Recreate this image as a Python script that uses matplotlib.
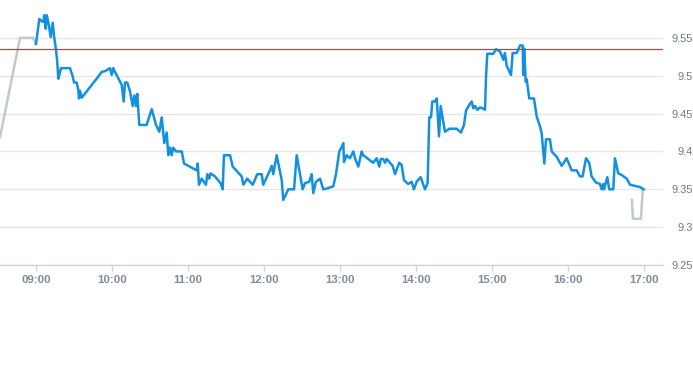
import numpy as np
import matplotlib.pyplot as plt

plt.rcParams['font.family'] = ['Liberation Sans', 'DejaVu Sans']

# --- data: minutes after 09:00 and price ---
pre_min = [-28.4, -12.6, -2.4, 0.0]
pre_px = [9.419, 9.550, 9.550, 9.542]

day_min = [0.0, 2.6, 4.5, 5.8, 6.5, 7.7, 8.4, 9.2, 10.3, 11.6, 13.2, 14.4, 15.8, 16.8,
           17.6, 18.4, 19.7, 26.8, 29.0, 30.0, 32.1, 33.4, 33.9, 34.7, 36.1, 49.2, 51.8,
           54.4, 58.4, 59.7, 61.0, 62.3, 67.6, 69.2, 70.2, 72.0, 74.2, 76.3, 77.6, 78.9,
           79.9, 81.5, 87.3, 91.3, 94.7, 97.3, 99.2, 101.2, 103.1, 104.4, 105.7, 107.1,
           108.3, 110.5, 115.0, 116.8, 126.8, 127.6, 128.6, 130.7, 134.1, 135.2, 136.7,
           137.8, 141.2, 145.7, 147.3, 148.3, 153.1, 155.2, 162.3, 163.6, 166.7, 171.0,
           174.6, 178.1, 179.3, 184.6, 186.0, 187.2, 189.9, 193.9, 195.1, 199.1, 203.6,
           205.7, 210.4, 212.2, 215.6, 217.5, 218.8, 220.9, 224.1, 226.7, 229.4, 234.6,
           236.7, 239.3, 241.2, 242.5, 243.0, 245.1, 247.7, 250.4, 251.7, 254.3, 257.0,
           258.2, 266.1, 268.8, 270.9, 272.0, 274.0, 275.4, 276.7, 281.4, 283.3, 286.6,
           288.5, 290.4, 293.7, 296.4, 298.2, 300.4, 303.5, 306.9, 309.0, 310.3, 311.7,
           312.7, 314.8, 316.2, 318.0, 319.3, 322.7, 326.1, 331.9, 335.3, 337.7, 339.3,
           342.4, 343.8, 345.0, 346.4, 348.2, 350.3, 352.4, 354.3, 355.1, 356.1, 360.8,
           362.9, 366.1, 367.4, 368.7, 370.0, 371.4, 374.8, 376.1, 379.3, 381.9, 384.0,
           384.5, 385.2, 386.4, 387.2, 389.2, 392.9, 395.1, 397.7, 399.0, 401.1, 402.4,
           405.5, 406.9, 410.8, 414.8, 418.7, 422.7, 426.6, 429.2, 431.3, 434.0, 436.5,
           438.4, 441.8, 445.0, 446.3, 447.6, 448.2, 450.8, 452.3, 455.5, 456.8, 459.4,
           462.1, 466.1, 468.7, 476.6, 479.2]
day_px = [9.542, 9.575, 9.572, 9.571, 9.580, 9.562, 9.580, 9.575, 9.565, 9.551, 9.570,
          9.550, 9.534, 9.518, 9.496, 9.501, 9.510, 9.510, 9.499, 9.491, 9.491, 9.481,
          9.470, 9.480, 9.471, 9.499, 9.505, 9.506, 9.510, 9.501, 9.510, 9.505, 9.488,
          9.466, 9.491, 9.491, 9.479, 9.460, 9.474, 9.460, 9.476, 9.435, 9.435, 9.456,
          9.435, 9.426, 9.445, 9.411, 9.425, 9.395, 9.405, 9.395, 9.405, 9.400, 9.400,
          9.384, 9.375, 9.384, 9.356, 9.364, 9.356, 9.370, 9.364, 9.371, 9.367, 9.358,
          9.350, 9.395, 9.395, 9.380, 9.367, 9.356, 9.364, 9.356, 9.370, 9.370, 9.356,
          9.375, 9.381, 9.370, 9.395, 9.362, 9.336, 9.350, 9.350, 9.395, 9.350, 9.358,
          9.360, 9.370, 9.345, 9.360, 9.364, 9.350, 9.351, 9.354, 9.370, 9.400, 9.406,
          9.411, 9.386, 9.395, 9.391, 9.400, 9.391, 9.380, 9.400, 9.395, 9.385, 9.391,
          9.380, 9.390, 9.390, 9.385, 9.390, 9.381, 9.370, 9.385, 9.382, 9.362, 9.357,
          9.360, 9.350, 9.360, 9.366, 9.350, 9.358, 9.445, 9.445, 9.466, 9.466, 9.470,
          9.420, 9.460, 9.426, 9.430, 9.430, 9.425, 9.435, 9.454, 9.463, 9.466, 9.457,
          9.460, 9.455, 9.458, 9.457, 9.455, 9.499, 9.529, 9.529, 9.535, 9.532, 9.527,
          9.521, 9.530, 9.513, 9.501, 9.530, 9.530, 9.540, 9.540, 9.501, 9.536, 9.492,
          9.495, 9.470, 9.470, 9.446, 9.433, 9.424, 9.384, 9.416, 9.416, 9.400, 9.393,
          9.381, 9.391, 9.375, 9.375, 9.367, 9.367, 9.391, 9.385, 9.367, 9.359, 9.357,
          9.350, 9.357, 9.350, 9.366, 9.350, 9.350, 9.391, 9.371, 9.369, 9.364, 9.356,
          9.353, 9.350]

post_min = [470.2, 471.0, 477.3, 478.8, 480.0]
post_px = [9.336, 9.311, 9.311, 9.350, 9.350]

ref_level = 9.535

hours = list(range(9, 18))
hour_labels = [f"{h:02d}:00" for h in hours]
y_ticks = [9.25, 9.30, 9.35, 9.40, 9.45, 9.50, 9.55]
y_labels = ['9.25', '9.3', '9.35', '9.4', '9.45', '9.5', '9.55']


def to_hours(mins):
    return 9 + np.array(mins) / 60.0


fig = plt.figure(figsize=(6.93, 3.65), dpi=100)
ax = fig.add_axes([0, 100 / 365, 663 / 693, 265 / 365])

ax.plot(to_hours(pre_min), pre_px, color='#c0c8d0', lw=1.8, solid_joinstyle='round')
ax.plot(to_hours(post_min), post_px, color='#c0c8d0', lw=1.8, solid_joinstyle='round')
ax.plot(to_hours(day_min), day_px, color='#1490e0', lw=1.8, solid_joinstyle='round', zorder=3)
ax.axhline(ref_level, color='#d0392f', lw=0.9, zorder=4)

ax.set_xlim(9 - 36 / 76.04, 9 + (663 - 36) / 76.04)
ax.set_ylim(9.25, 9.6)

for side in ['top', 'left', 'right']:
    ax.spines[side].set_visible(False)
ax.spines['bottom'].set_color('#ccd6eb')
ax.spines['bottom'].set_linewidth(1)

ax.set_yticks(y_ticks)
ax.set_yticklabels(y_labels)
ax.yaxis.tick_right()
ax.tick_params(axis='y', length=0, pad=21.6, labelsize=8, labelcolor='#707a85')
for lbl in ax.get_yticklabels():
    lbl.set_horizontalalignment('right')
ax.grid(axis='y', color='#e6e6e6', lw=1)
ax.set_axisbelow(True)

ax.set_xticks(hours)
ax.set_xticklabels(hour_labels, fontweight='bold')
ax.tick_params(axis='x', length=4.5, width=1, color='#ccd6eb', pad=3,
               labelsize=8.2, labelcolor='#7f8c9a')

fig.savefig('out.png', dpi=100)
